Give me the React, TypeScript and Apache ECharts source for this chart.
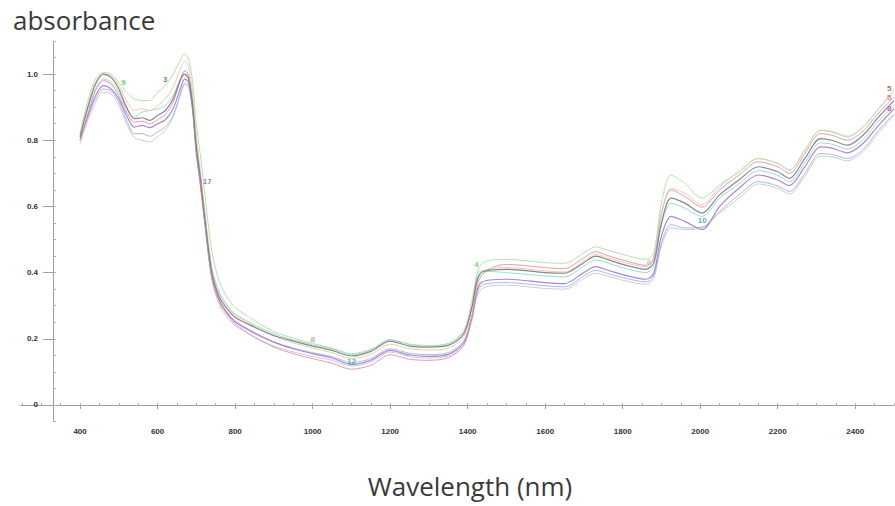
import React, { useEffect, useRef } from "react";
import * as echarts from "echarts";

const wavelengths = [
  400, 420, 440, 460, 480, 500, 520, 540, 560, 580, 600, 620, 640, 660, 670, 680, 690,
  700, 710, 720, 740, 760, 780, 800, 850, 900, 950, 1000, 1050, 1100, 1150, 1200, 1250,
  1300, 1350, 1390, 1410, 1435, 1500, 1600, 1650, 1700, 1730, 1760, 1800, 1860, 1880,
  1900, 1925, 1960, 2005, 2050, 2100, 2150, 2200, 2230, 2270, 2310, 2340, 2380, 2420,
  2460, 2500,
];

const sampleA = [
  0.82, 0.92, 0.985, 1.005, 1.0, 0.975, 0.945, 0.925, 0.92, 0.92, 0.945, 0.965, 1.0, 1.045, 1.062, 1.045, 0.98,
  0.85, 0.76, 0.655, 0.465, 0.37, 0.325, 0.295, 0.255, 0.222, 0.202, 0.186, 0.172, 0.155, 0.168, 0.198, 0.184,
  0.18, 0.186, 0.225, 0.31, 0.425, 0.44, 0.43, 0.428, 0.46, 0.478, 0.468, 0.455, 0.44, 0.46,
  0.61, 0.695, 0.67, 0.625, 0.665, 0.705, 0.745, 0.73, 0.71, 0.77, 0.83, 0.825, 0.81, 0.84,
  0.895, 0.945,
];
const sampleB = [
  0.815, 0.905, 0.975, 1.0, 0.995, 0.965, 0.92, 0.89, 0.895, 0.89, 0.905, 0.925, 0.96, 1.02, 1.04, 1.02, 0.945,
  0.81, 0.71, 0.6, 0.41, 0.335, 0.298, 0.272, 0.238, 0.208, 0.188, 0.172, 0.158, 0.14, 0.153, 0.184, 0.17,
  0.166, 0.172, 0.205, 0.285, 0.4, 0.415, 0.405, 0.402, 0.435, 0.455, 0.446, 0.432, 0.418, 0.44,
  0.575, 0.655, 0.64, 0.605, 0.66, 0.705, 0.745, 0.73, 0.71, 0.77, 0.83, 0.827, 0.812, 0.84,
  0.895, 0.955,
];
const sampleC = [
  0.81, 0.9, 0.97, 1.0, 0.99, 0.955, 0.9, 0.865, 0.868, 0.86, 0.875, 0.89, 0.925, 0.985, 1.0, 0.985, 0.91,
  0.78, 0.69, 0.585, 0.4, 0.325, 0.29, 0.265, 0.235, 0.21, 0.193, 0.178, 0.165, 0.148, 0.162, 0.193, 0.178,
  0.175, 0.18, 0.215, 0.29, 0.4, 0.41, 0.4, 0.398, 0.43, 0.45, 0.44, 0.425, 0.41, 0.43,
  0.55, 0.625, 0.61, 0.58, 0.635, 0.68, 0.72, 0.705, 0.685, 0.745, 0.805, 0.8, 0.785, 0.815,
  0.87, 0.92,
];
const sampleD = [
  0.8, 0.88, 0.95, 0.98, 0.97, 0.935, 0.885, 0.855, 0.858, 0.85, 0.862, 0.878, 0.915, 0.985, 1.01, 0.995, 0.915,
  0.77, 0.675, 0.57, 0.385, 0.31, 0.272, 0.245, 0.205, 0.175, 0.155, 0.14, 0.126, 0.108, 0.12, 0.152, 0.138,
  0.135, 0.143, 0.18, 0.265, 0.39, 0.425, 0.415, 0.412, 0.445, 0.463, 0.452, 0.438, 0.422, 0.445,
  0.58, 0.65, 0.63, 0.598, 0.65, 0.695, 0.735, 0.72, 0.7, 0.76, 0.82, 0.815, 0.8, 0.828,
  0.882, 0.93,
];
const sampleE = [
  0.8, 0.875, 0.935, 0.965, 0.955, 0.925, 0.875, 0.84, 0.845, 0.838, 0.85, 0.862, 0.895, 0.96, 0.985, 0.975, 0.9,
  0.765, 0.675, 0.575, 0.39, 0.315, 0.278, 0.252, 0.218, 0.19, 0.17, 0.155, 0.142, 0.122, 0.135, 0.165, 0.151,
  0.147, 0.153, 0.188, 0.26, 0.37, 0.38, 0.37, 0.367, 0.4, 0.418, 0.408, 0.394, 0.38, 0.398,
  0.51, 0.57, 0.555, 0.53, 0.6, 0.655, 0.695, 0.68, 0.663, 0.72, 0.78, 0.776, 0.762, 0.79,
  0.845, 0.895,
];
const sampleF = [
  0.805, 0.87, 0.925, 0.955, 0.948, 0.915, 0.86, 0.82, 0.82, 0.812, 0.825, 0.84, 0.875, 0.945, 0.972, 0.965, 0.895,
  0.76, 0.67, 0.57, 0.385, 0.31, 0.275, 0.25, 0.215, 0.19, 0.172, 0.158, 0.146, 0.128, 0.14, 0.17, 0.156,
  0.152, 0.158, 0.193, 0.262, 0.36, 0.37, 0.36, 0.357, 0.39, 0.407, 0.398, 0.385, 0.372, 0.39,
  0.49, 0.545, 0.535, 0.538, 0.585, 0.635, 0.675, 0.662, 0.645, 0.7, 0.76, 0.757, 0.745, 0.772,
  0.83, 0.88,
];
const sampleG = [
  0.82, 0.895, 0.955, 0.985, 0.975, 0.945, 0.895, 0.87, 0.885, 0.89, 0.895, 0.905, 0.935, 0.99, 1.01, 0.995, 0.925,
  0.795, 0.7, 0.6, 0.415, 0.34, 0.3, 0.275, 0.242, 0.215, 0.197, 0.182, 0.17, 0.152, 0.166, 0.197, 0.182,
  0.178, 0.185, 0.22, 0.295, 0.405, 0.4, 0.39, 0.387, 0.42, 0.438, 0.43, 0.415, 0.4, 0.42,
  0.545, 0.61, 0.595, 0.57, 0.625, 0.668, 0.708, 0.694, 0.675, 0.733, 0.792, 0.788, 0.773, 0.802,
  0.857, 0.905,
];
const sampleH = [
  0.79, 0.86, 0.915, 0.945, 0.94, 0.905, 0.85, 0.808, 0.8, 0.795, 0.81, 0.83, 0.87, 0.94, 0.968, 0.96, 0.89,
  0.755, 0.665, 0.565, 0.378, 0.3, 0.265, 0.24, 0.205, 0.178, 0.16, 0.147, 0.135, 0.118, 0.13, 0.16, 0.146,
  0.142, 0.148, 0.182, 0.25, 0.35, 0.362, 0.352, 0.35, 0.382, 0.398, 0.39, 0.377, 0.365, 0.382,
  0.48, 0.535, 0.53, 0.535, 0.58, 0.625, 0.668, 0.655, 0.638, 0.692, 0.752, 0.75, 0.738, 0.765,
  0.822, 0.875,
];

const yTickLabels = [0, 0.2, 0.4, 0.6, 0.8, 1.0];
const yMinorTicks = [-0.05, 0, 0.05, 0.1, 0.15, 0.2, 0.25, 0.3, 0.35, 0.4, 0.45, 0.5, 0.55, 0.6, 0.65, 0.7, 0.75, 0.8, 0.85, 0.9, 0.95, 1.0, 1.05, 1.1];
const xTickLabels = [400, 600, 800, 1000, 1200, 1400, 1600, 1800, 2000, 2200, 2400];
const xMinorTicks = [
  250, 300, 350, 400, 450, 500, 550, 600, 650, 700, 750, 800, 850, 900, 950, 1000, 1050, 1100,
  1150, 1200, 1250, 1300, 1350, 1400, 1450, 1500, 1550, 1600, 1650, 1700, 1750, 1800, 1850,
  1900, 1950, 2000, 2050, 2100, 2150, 2200, 2250, 2300, 2350, 2400, 2450, 2500,
];

const seriesDefs = [
  { name: "H", values: sampleH, color: "#c8c8c8", width: 1 },
  { name: "F", values: sampleF, color: "#98b6ea", width: 1 },
  { name: "E", values: sampleE, color: "#a678d4", width: 1.2 },
  { name: "G", values: sampleG, color: "#8cdad2", width: 1 },
  { name: "D", values: sampleD, color: "#e690ab", width: 1 },
  { name: "B", values: sampleB, color: "#ecc6a0", width: 1 },
  { name: "A", values: sampleA, color: "#abdfa6", width: 1 },
  { name: "C", values: sampleC, color: "#7c7c7c", width: 1.2 },
];

const pointLabels = [
  { series: "A", wl: 500, text: "9", color: "#3ec23e", pos: "right" },
  { series: "A", wl: 620, text: "3", color: "#2f7d2f", pos: "top" },
  { series: "E", wl: 710, text: "17", color: "#9b50d0", pos: "right" },
  { series: "C", wl: 1000, text: "8", color: "#999999", pos: "top" },
  { series: "G", wl: 1100, text: "12", color: "#2aa69a", pos: "bottom" },
  { series: "A", wl: 1435, text: "4", color: "#5cc25c", pos: "left" },
  { series: "C", wl: 1880, text: "6", color: "#b0b0b0", pos: "left" },
  { series: "F", wl: 2005, text: "10", color: "#3a8fd0", pos: "top" },
  { series: "B", wl: 2500, text: "5", color: "#8a5a3a", pos: "left" },
  { series: "D", wl: 2500, text: "5", color: "#e0609a", pos: "left" },
  { series: "E", wl: 2500, text: "8", color: "#9b40c0", pos: "left" },
];

export default function App() {
  const ref = useRef<HTMLDivElement>(null);
  useEffect(() => {
    if (!ref.current) return;
    const chart = echarts.init(ref.current, undefined, { renderer: "svg" });
    const lineSeries = seriesDefs.map((s) => ({
      name: s.name,
      type: "line",
      symbol: "none",
      smooth: 0.3,
      data: wavelengths.map((w, i) => [w, s.values[i]]),
      lineStyle: { color: s.color, width: s.width, opacity: 0.9 },
      z: 2,
    }));
    const labelData = pointLabels.map((l) => {
      const def = seriesDefs.find((s) => s.name === l.series)!;
      const idx = wavelengths.indexOf(l.wl);
      return {
        value: [l.wl, def.values[idx]],
        label: {
          show: true,
          formatter: l.text,
          color: l.color,
          position: l.pos,
          distance: 2,
          fontSize: 8,
          fontWeight: "bold",
          fontFamily: "Liberation Sans",
        },
      };
    });
    chart.setOption({
      animation: false,
      backgroundColor: "#ffffff",
      grid: { left: 20, right: 1, top: 41, bottom: 84.5, containLabel: false },
      xAxis: [
        {
          type: "value",
          min: 245,
          max: 2500,
          axisLine: { show: true, lineStyle: { color: "#a0a0a0", width: 1 } },
          axisTick: { show: true, customValues: xTickLabels, length: 4, lineStyle: { color: "#a0a0a0" } },
          axisLabel: {
            customValues: xTickLabels,
            formatter: (v: number) => String(v),
            color: "#333",
            fontSize: 8,
            fontWeight: "bold",
            fontFamily: "Liberation Sans",
            margin: 6,
          },
          splitLine: { show: false },
        },
        {
          type: "value",
          min: 245,
          max: 2500,
          position: "bottom",
          axisLine: { show: false },
          axisTick: { show: true, inside: true, customValues: xMinorTicks, length: 2, lineStyle: { color: "#b0b0b0" } },
          axisLabel: { show: false },
          splitLine: { show: false },
        },
      ],
      yAxis: [
        {
          type: "value",
          min: -0.05,
          max: 1.1,
          offset: -33,
          axisLine: { show: true, lineStyle: { color: "#a0a0a0", width: 1 } },
          axisTick: { show: true, customValues: yTickLabels, length: 10, lineStyle: { color: "#a0a0a0" } },
          axisLabel: {
            customValues: yTickLabels,
            formatter: (v: number) => (v === 0 ? "0" : v.toFixed(1)),
            color: "#333",
            fontSize: 8,
            fontWeight: "bold",
            fontFamily: "Liberation Sans",
            margin: 15,
          },
          splitLine: { show: false },
        },
        {
          type: "value",
          min: -0.05,
          max: 1.1,
          offset: -33,
          position: "left",
          axisLine: { show: false },
          axisTick: { show: true, inside: true, customValues: yMinorTicks, length: 3, lineStyle: { color: "#b0b0b0" } },
          axisLabel: { show: false },
          splitLine: { show: false },
        },
      ],
      series: [
        ...lineSeries,
        {
          name: "labels",
          type: "scatter",
          symbolSize: 1,
          itemStyle: { color: "rgba(0,0,0,0)" },
          data: labelData,
          z: 5,
        },
      ],
      graphic: [
        {
          type: "text",
          left: 13,
          top: 7,
          style: {
            text: "absorbance",
            fontSize: 26,
            fontFamily: "Open Sans",
            fill: "#3a3a3a",
          },
        },
        {
          type: "text",
          x: 470,
          y: 486,
          style: {
            text: "Wavelength (nm)",
            fontSize: 26,
            fontFamily: "Open Sans",
            fill: "#3a3a3a",
            align: "center",
            verticalAlign: "middle",
          },
        },
      ],
    });
    return () => chart.dispose();
  }, []);
  return (
    <div
      ref={ref}
      style={{ position: "fixed", left: 0, top: 0, width: 895, height: 506, background: "#fff" }}
    />
  );
}
